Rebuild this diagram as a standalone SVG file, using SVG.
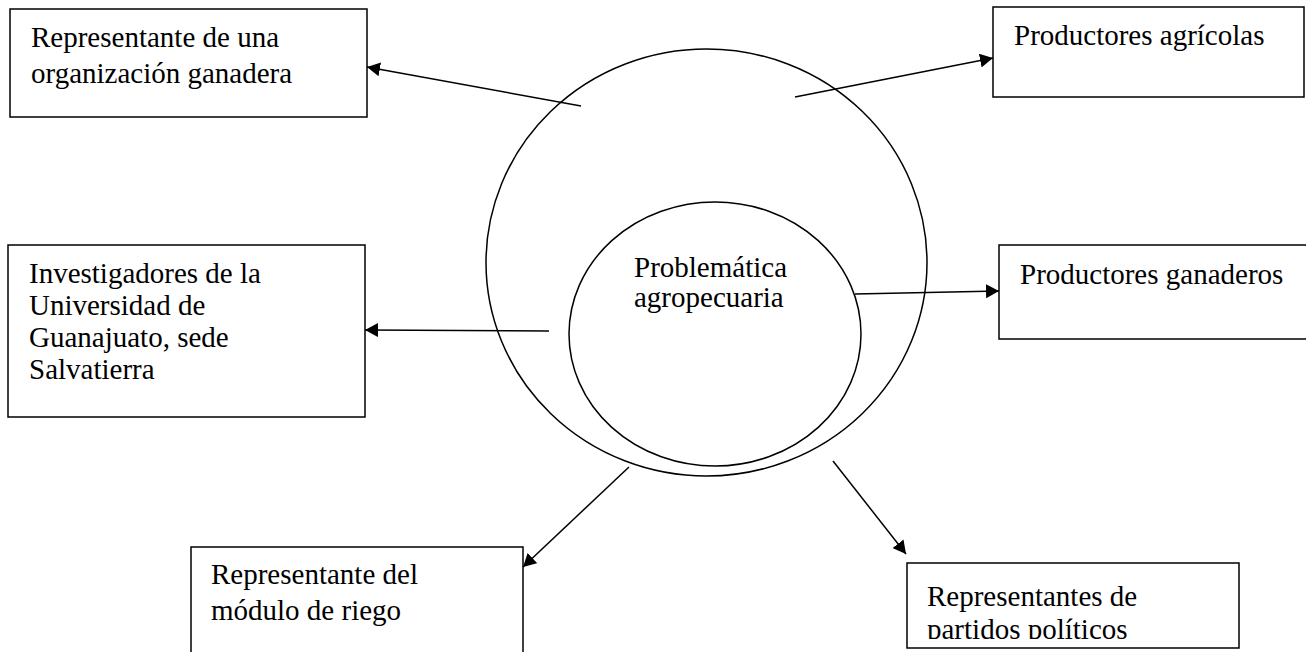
<svg xmlns="http://www.w3.org/2000/svg" width="1306" height="652" viewBox="0 0 1306 652">
<style>
.box{fill:#fff;stroke:#000;stroke-width:1.5}
.circ{fill:none;stroke:#000;stroke-width:1.5}
.lbl{font-family:"Liberation Serif","Times New Roman",serif;font-size:29px;fill:#000}
.edge{fill:none;stroke:#000;stroke-width:1.5;marker-end:url(#ah)}
</style>
<defs>
<marker id="ah" markerUnits="userSpaceOnUse" markerWidth="14" markerHeight="14" refX="13" refY="7" orient="auto">
<path d="M0,0 L13,7 L0,14 z" fill="#000"/>
</marker>
<clipPath id="c6"><rect x="900" y="560" width="400" height="79"/></clipPath>
</defs>
<rect width="1306" height="652" fill="#fff"/>
<g id="center">
<ellipse class="circ" cx="706.5" cy="262.5" rx="220.5" ry="213.5"/>
<ellipse class="circ" cx="715" cy="334" rx="146" ry="132"/>
<text class="lbl" x="634" y="277">Problemática</text>
<text class="lbl" x="634" y="307">agropecuaria</text>
</g>
<g id="n1">
<rect class="box" x="10" y="9" width="357" height="108"/>
<text class="lbl" x="31" y="47">Representante de una</text>
<text class="lbl" x="31" y="83">organización ganadera</text>
</g>
<g id="n2">
<rect class="box" x="993" y="7" width="311" height="90"/>
<text class="lbl" x="1014" y="45">Productores agrícolas</text>
</g>
<g id="n3">
<rect class="box" x="8" y="245" width="357" height="172"/>
<text class="lbl" x="29" y="283">Investigadores de la</text>
<text class="lbl" x="29" y="315">Universidad de</text>
<text class="lbl" x="29" y="347">Guanajuato, sede</text>
<text class="lbl" x="29" y="379">Salvatierra</text>
</g>
<g id="n4">
<rect class="box" x="999" y="245" width="310" height="94"/>
<text class="lbl" x="1020" y="284">Productores ganaderos</text>
</g>
<g id="n5">
<rect class="box" x="191" y="547" width="332" height="120"/>
<text class="lbl" x="211" y="584">Representante del</text>
<text class="lbl" x="211" y="620">módulo de riego</text>
</g>
<g id="n6">
<rect class="box" x="907" y="563" width="332" height="85"/>
<text class="lbl" x="927" y="606">Representantes de</text>
<text class="lbl" x="927" y="639" clip-path="url(#c6)">partidos políticos</text>
</g>
<g id="connectors">
<line class="edge" x1="581" y1="106" x2="367" y2="67"/>
<line class="edge" x1="795" y1="97" x2="993" y2="58"/>
<line class="edge" x1="549" y1="331" x2="365" y2="330"/>
<line class="edge" x1="855" y1="294" x2="999" y2="291"/>
<line class="edge" x1="629" y1="467" x2="523" y2="567"/>
<line class="edge" x1="833" y1="461" x2="906" y2="554"/>
</g>
</svg>
